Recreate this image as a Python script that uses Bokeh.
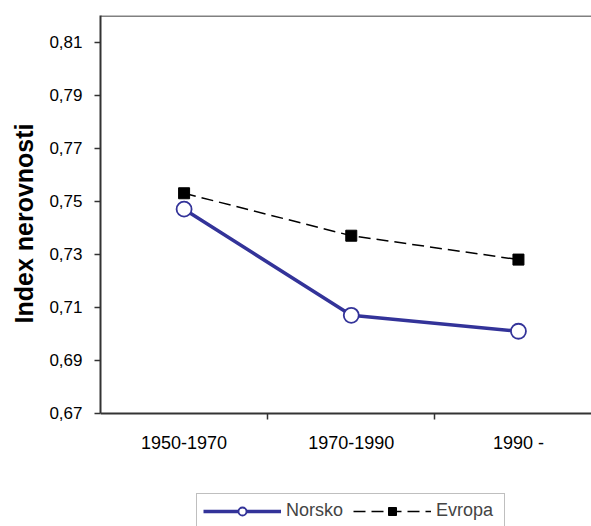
from bokeh.plotting import figure
from bokeh.models import (Range1d, FixedTicker, CustomJSTickFormatter, Legend, LegendItem, Title)
from bokeh.embed import file_html
from bokeh.resources import INLINE

categories = ["1950-1970", "1970-1990", "1990 -"]
norsko = [0.747, 0.707, 0.701]
evropa = [0.753, 0.737, 0.728]
y_ticks = [0.67, 0.69, 0.71, 0.73, 0.75, 0.77, 0.79, 0.81]
y_min, y_max = 0.67, 0.82

xs = list(range(len(categories)))

FONT = "Liberation Sans"

p = figure(width=591, height=526, output_backend="svg", toolbar_location=None,
           x_range=Range1d(-0.5, 2.437), y_range=Range1d(0.6274, y_max),
           min_border_left=99, min_border_right=0, min_border_top=15, min_border_bottom=0)
p.grid.visible = False
p.outline_line_color = None
p.background_fill_color = "white"
p.border_fill_color = "white"

# top border of the plot area
p.line(x=[-0.5, 2.437], y=[y_max, y_max], line_color="#808080", line_width=3)

# x axis, drawn at the bottom of the value range
xa = p.xaxis[0]
xa.fixed_location = y_min
xa.ticker = FixedTicker(ticks=xs, minor_ticks=[0.5, 1.5])
xa.major_label_overrides = {i: c for i, c in zip(xs, categories)}
xa.major_tick_line_color = None
xa.major_tick_out = 0
xa.major_tick_in = 0
xa.minor_tick_out = 6
xa.minor_tick_in = 0
xa.minor_tick_line_color = "#333333"
xa.minor_tick_line_width = 1.5
xa.axis_line_color = "#333333"
xa.axis_line_width = 2
xa.major_label_text_font = FONT
xa.major_label_text_font_size = "18px"
xa.major_label_text_color = "black"
xa.major_label_standoff = 14

# y axis
ya = p.yaxis[0]
ya.bounds = (y_min, y_max)
ya.ticker = FixedTicker(ticks=y_ticks, minor_ticks=[])
ya.formatter = CustomJSTickFormatter(code="return tick.toFixed(2).replace('.', ',');")
ya.major_tick_out = 6
ya.major_tick_in = 0
ya.major_tick_line_color = "#333333"
ya.major_tick_line_width = 1.5
ya.axis_line_color = "#333333"
ya.axis_line_width = 2
ya.major_label_text_font = FONT
ya.major_label_text_font_size = "17px"
ya.major_label_text_color = "black"
ya.major_label_standoff = 12

# y axis title
ytitle = Title(text="Index nerovnosti", align="left", offset=203,
               vertical_align="middle",
               text_font=FONT, text_font_size="25px", text_font_style="bold",
               text_color="black", standoff=16)
p.add_layout(ytitle, "left")

# series
l1 = p.line(xs, norsko, line_color="#333399", line_width=3.5)
s1 = p.scatter(xs, norsko, marker="circle", size=15, fill_color="white",
               line_color="#333399", line_width=1.8)
l2 = p.line(xs, evropa, line_color="black", line_width=1.5, line_dash="12 6")
s2 = p.scatter(xs, evropa, marker="square", size=11, fill_color="black",
               line_color="black")

legend = Legend(items=[LegendItem(label="Norsko", renderers=[l1, s1]),
                       LegendItem(label="Evropa", renderers=[l2, s2])],
                orientation="horizontal", location=(96, -27),
                glyph_width=78, glyph_height=20, label_height=20, label_width=62,
                label_standoff=5, spacing=5, padding=6, margin=0,
                title=" ", title_location="below", title_text_font_size="17px",
                title_standoff=5,
                label_text_font=FONT, label_text_font_size="18px",
                border_line_color="#808080", border_line_width=1.5,
                background_fill_color="white", background_fill_alpha=1)
p.add_layout(legend, "center")

open("out.html", "w").write(file_html(p, INLINE))
